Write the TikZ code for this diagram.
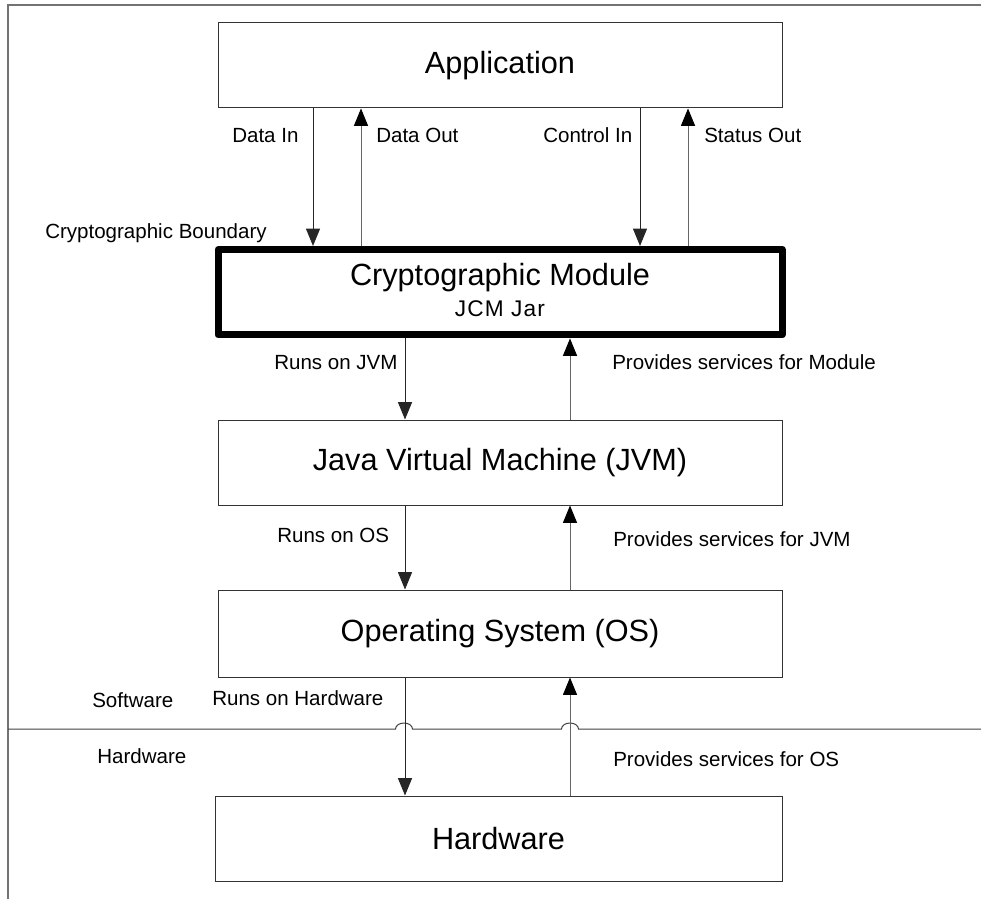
\documentclass[tikz,border=0pt]{standalone}
\usepackage{fontspec}
\setmainfont{Liberation Sans}
\newfontfamily\spacedfont[LetterSpace=5]{Liberation Sans}
\usetikzlibrary{arrows.meta}
\begin{document}
\begin{tikzpicture}[x=0.75pt,y=-0.75pt,
  bigfont/.style={font=\fontsize{23}{27}\selectfont},
  box/.style={draw=black!80, line width=0.75pt, minimum width=423pt, inner sep=0pt, bigfont},
  cmbox/.style={draw=black, line width=5.25pt, line join=round, minimum width=423pt, minimum height=64.1pt, inner sep=0pt},
  lab/.style={anchor=base west, inner sep=0pt, font=\fontsize{15.4}{18}\selectfont},
  arrdn/.style={draw=black!85, line width=0.75pt, -{Triangle[length=13pt,width=10.5pt]}},
  arrup/.style={draw=black!60, line width=0.75pt, -{Triangle[length=13pt,width=10.5pt,color=black]}},
  frame/.style={draw=black!55, line width=1.5pt},
  sepline/.style={draw=black!75, line width=0.75pt}
]
\useasboundingbox (0,0) rectangle (981,899);

% outer frame
\draw[frame] (8,899) -- (8,5) -- (981,5);

% boxes
\node[box, minimum height=64pt] (app) at (500,65.3) {Application};
\node[cmbox] (cm) at (500,292.2) {};
\node[anchor=base, inner sep=0pt, bigfont] (cmt) at (500,285) {Cryptographic Module};
\node[anchor=base, inner sep=0pt, font=\spacedfont\fontsize{17}{20}\selectfont] (cmj) at (500,316.5) {JCM Jar};
\node[box, minimum height=63.75pt] (jvm) at (500,462.5) {Java Virtual Machine (JVM)};
\node[box, minimum height=65.25pt] (os) at (500,633.5) {Operating System (OS)};
\node[box, minimum height=63.75pt, minimum width=425.25pt] (hw) at (498.5,838.5) {Hardware};

% software / hardware separator with hops
\draw[sepline] (8,729) -- (395.5,729)
  arc[start angle=180, end angle=360, x radius=8.5, y radius=6]
  -- (561.5,729)
  arc[start angle=180, end angle=360, x radius=8.5, y radius=6]
  -- (981,729);

% connector x positions
\coordinate (xa) at (313,0);
\coordinate (xb) at (361,0);
\coordinate (xc) at (640,0);
\coordinate (xd) at (688,0);
\coordinate (xe) at (405,0);
\coordinate (xf) at (570,0);

\draw[arrdn] (app.south -| xa) -- (cm.north -| xa);
\draw[arrup] (cm.north -| xb) -- (app.south -| xb);
\draw[arrdn] (app.south -| xc) -- (cm.north -| xc);
\draw[arrup] (cm.north -| xd) -- (app.south -| xd);

\draw[arrdn] (cm.south -| xe) -- (jvm.north -| xe);
\draw[arrup] (jvm.north -| xf) -- (cm.south -| xf);

\draw[arrdn] (jvm.south -| xe) -- (os.north -| xe);
\draw[arrup] (os.north -| xf) -- (jvm.south -| xf);

\draw[arrdn] (os.south -| xe) -- (hw.north -| xe);
\draw[arrup] (hw.north -| xf) -- (os.south -| xf);

% labels
\node[lab] (l1) at (232,142) {Data In};
\node[lab] (l2) at (376,142) {Data Out};
\node[lab] (l3) at (543,142) {Control In};
\node[lab] (l4) at (704,142) {Status Out};
\node[lab] (l5) at (45,238) {Cryptographic Boundary};
\node[lab] (l6) at (274,369) {Runs on JVM};
\node[lab] (l7) at (612,369) {Provides services for Module};
\node[lab] (l8) at (277,542) {Runs on OS};
\node[lab] (l9) at (613,546) {Provides services for JVM};
\node[lab] (l10) at (92,707) {Software};
\node[lab] (l11) at (212,705) {Runs on Hardware};
\node[lab] (l12) at (97,763) {Hardware};
\node[lab] (l13) at (613,766) {Provides services for OS};
\end{tikzpicture}
\end{document}
